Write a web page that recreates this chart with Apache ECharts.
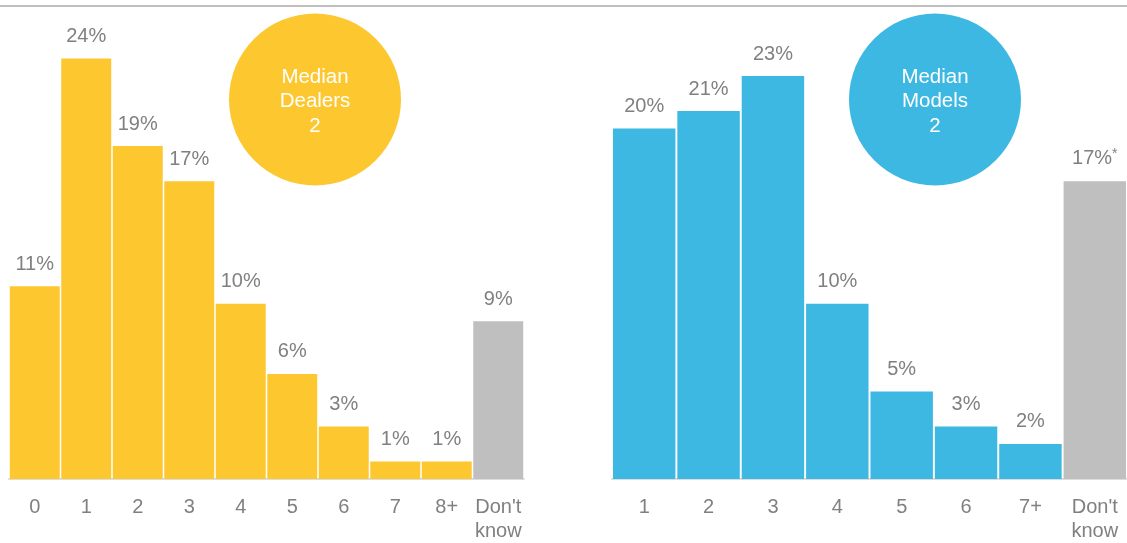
<!DOCTYPE html>
<html>
<head>
<meta charset="utf-8">
<script src="https://cdn.jsdelivr.net/npm/echarts@6/dist/echarts.min.js"></script>
<style>
  html, body { margin: 0; padding: 0; background: #fff; }
  #chart { width: 1127px; height: 543px; }
</style>
</head>
<body>
<div id="chart"></div>
<script>
// Number of dealers visited (share of respondents, %)
const dealerCats = ['0', '1', '2', '3', '4', '5', '6', '7', '8+', "Don't\nknow"];
const dealerShares = [11, 24, 19, 17, 10, 6, 3, 1, 1, 9];
const medianDealers = 2;

// Number of models considered (share of respondents, %)
const modelCats = ['1', '2', '3', '4', '5', '6', '7+', "Don't\nknow"];
const modelShares = [20, 21, 23, 10, 5, 3, 2, 17];
const medianModels = 2;

// Footnoted bar labels (marked with an asterisk)
const dealerNotes = [false, false, false, false, false, false, false, false, false, false];
const modelNotes = [false, false, false, false, false, false, false, true];

const YELLOW = '#FCC72F';
const BLUE = '#3DB8E3';
const GREY = '#BFBFBF';
const TEXT = '#808080';
const FONT = '"Liberation Sans", Arial, sans-serif';

function barData(values, color) {
  return values.map((v, i) => ({
    value: v,
    itemStyle: { color: i === values.length - 1 ? GREY : color }
  }));
}

function labelFor(notes) {
  return {
    show: true,
    position: 'top',
    distance: 12,
    color: TEXT,
    fontFamily: FONT,
    fontSize: 20,
    formatter: p => notes[p.dataIndex] ? '{v|' + p.value + '%}{s|*}' : '{v|' + p.value + '%}',
    rich: {
      v: { color: TEXT, fontFamily: FONT, fontSize: 20 },
      s: { color: TEXT, fontFamily: FONT, fontSize: 14, verticalAlign: 'top', padding: [0, 0, 8, 0] }
    }
  };
}

const axisX = (cats, gi) => ({
  type: 'category',
  gridIndex: gi,
  data: cats,
  axisTick: { show: false },
  axisLine: { lineStyle: { color: '#DCDCDC', width: 2 } },
  axisLabel: { color: TEXT, fontFamily: FONT, fontSize: 20, lineHeight: 24, margin: 16, interval: 0 }
});

const axisY = gi => ({
  type: 'value',
  gridIndex: gi,
  min: 0,
  max: 25,
  show: false,
  splitLine: { show: false }
});

function medianBadge(cx, color, lines) {
  return {
    type: 'group',
    children: [
      { type: 'circle', shape: { cx: cx, cy: 99.5, r: 86 }, style: { fill: color } },
      {
        type: 'text',
        x: cx,
        y: 101.5,
        style: {
          text: lines.join('\n'),
          fill: '#fff',
          font: '20.5px ' + FONT,
          lineHeight: 24.5,
          align: 'center',
          verticalAlign: 'middle'
        }
      }
    ]
  };
}

const chart = echarts.init(document.getElementById('chart'), null, { renderer: 'canvas' });
chart.setOption({
  animation: false,
  backgroundColor: '#fff',
  grid: [
    { left: 9, width: 515, top: 41, bottom: 59 },
    { left: 612, width: 515, top: 41, bottom: 59 }
  ],
  xAxis: [axisX(dealerCats, 0), axisX(modelCats, 1)],
  yAxis: [axisY(0), axisY(1)],
  series: [
    {
      type: 'bar',
      xAxisIndex: 0,
      yAxisIndex: 0,
      barCategoryGap: '3%',
      data: barData(dealerShares, YELLOW),
      label: labelFor(dealerNotes)
    },
    {
      type: 'bar',
      xAxisIndex: 1,
      yAxisIndex: 1,
      barCategoryGap: '3%',
      data: barData(modelShares, BLUE),
      label: labelFor(modelNotes)
    }
  ],
  graphic: [
    { type: 'line', shape: { x1: 0, y1: 6, x2: 1127, y2: 6 }, style: { stroke: '#C0C0C0', lineWidth: 2 } },
    medianBadge(315, YELLOW, ['Median', 'Dealers', String(medianDealers)]),
    medianBadge(935, BLUE, ['Median', 'Models', String(medianModels)])
  ]
});
</script>
</body>
</html>
